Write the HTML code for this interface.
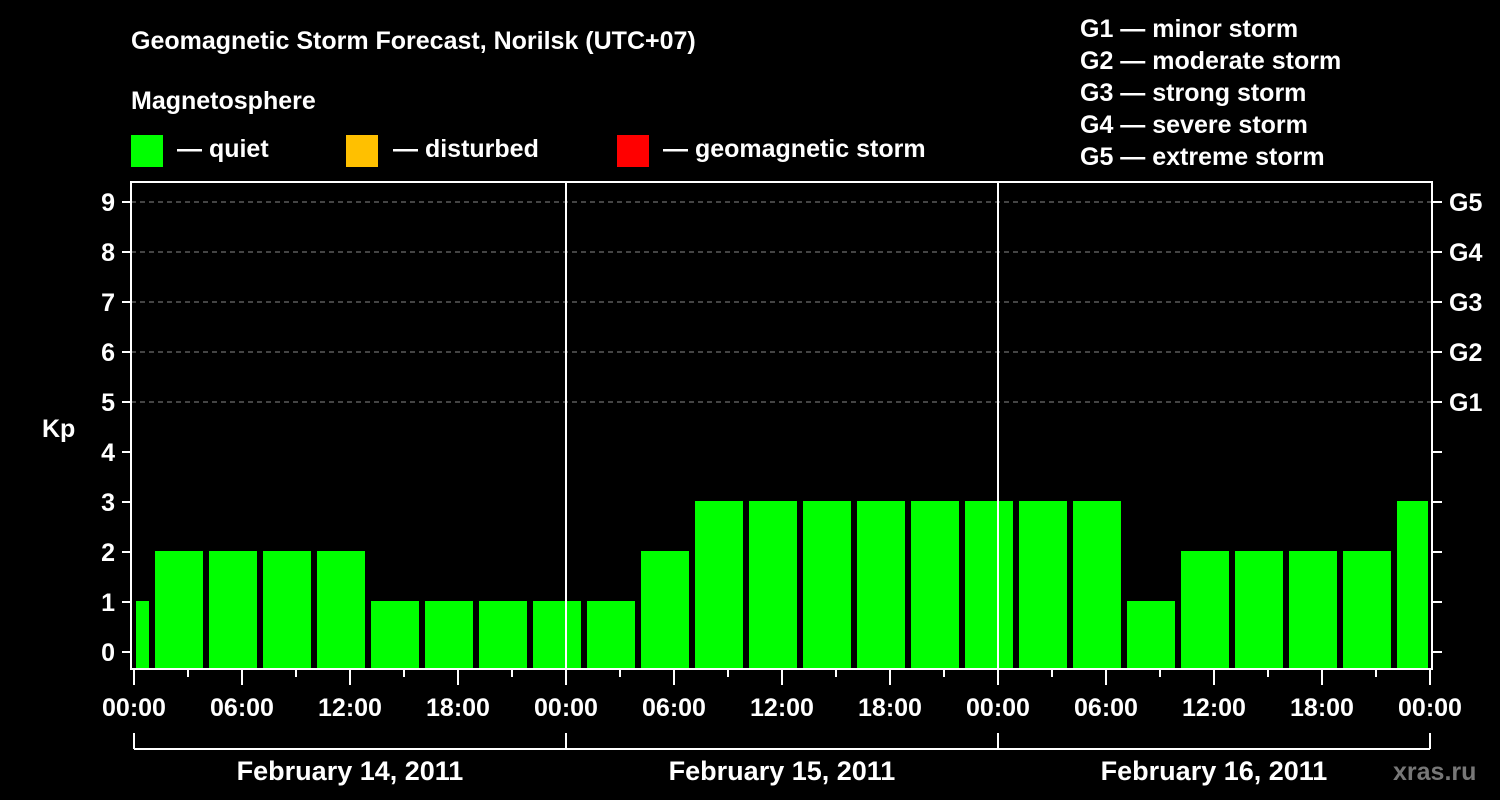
<!DOCTYPE html>
<html><head><meta charset="utf-8"><style>
html,body{margin:0;padding:0;background:#000;width:1500px;height:800px;overflow:hidden}
svg text{font-family:"Liberation Sans",sans-serif;font-weight:bold;fill:#fff}
</style></head><body>
<svg id="chart" width="1500" height="800" viewBox="0 0 1500 800" xmlns="http://www.w3.org/2000/svg">
<rect width="1500" height="800" fill="#000"/>
<text x="131" y="49" font-size="25">Geomagnetic Storm Forecast, Norilsk (UTC+07)</text>
<text x="131" y="109" font-size="25">Magnetosphere</text>
<g>
<rect x="131" y="135" width="32" height="32" fill="#00ff00"/>
<text x="177" y="157" font-size="25">— quiet</text>
<rect x="346" y="135" width="32" height="32" fill="#ffc000"/>
<text x="393" y="157" font-size="25">— disturbed</text>
<rect x="617" y="135" width="32" height="32" fill="#ff0000"/>
<text x="663" y="157" font-size="25">— geomagnetic storm</text>
</g>
<g font-size="25">
<text x="1080" y="37">G1 — minor storm</text>
<text x="1080" y="69">G2 — moderate storm</text>
<text x="1080" y="101">G3 — strong storm</text>
<text x="1080" y="133">G4 — severe storm</text>
<text x="1080" y="165">G5 — extreme storm</text>
</g>
<text x="42" y="437" font-size="25">Kp</text>
<text x="1393" y="780" font-size="25" fill="#777" style="fill:#777">xras.ru</text>
<g id="plot"></g>
</svg>
<script>
const kpValues = [1,2,2,2,2,1,1,1,1,1,2,3,3,3,3,3,3,3,3,1,2,2,2,2,3];
const slotStartHours = -2; // first 3-hour slot start (hours from Feb 14 00:00 local)
const yTicks = [0,1,2,3,4,5,6,7,8,9];
const gLabels = ["G1","G2","G3","G4","G5"];
const gLevels = [5,6,7,8,9];
const xTickLabels = ["00:00","06:00","12:00","18:00","00:00","06:00","12:00","18:00","00:00","06:00","12:00","18:00","00:00"];
const dayLabels = ["February 14, 2011","February 15, 2011","February 16, 2011"];

const NS="http://www.w3.org/2000/svg";
const plot=document.getElementById('plot');
const X0=134, PXH=(1430-134)/72, Y0=652, PXK=50;
const L=131,R=1432,T=182,B=669;
const xs=h=>X0+h*PXH, ys=k=>Y0-k*PXK;
function mk(tag,attrs,name){const e=document.createElementNS(NS,tag);for(const k in attrs)e.setAttribute(k,attrs[k]);


plot.appendChild(e);return e;}
// grid
gLevels.forEach((k,i)=>{mk('line',{x1:L,x2:R,y1:ys(k),y2:ys(k),stroke:'#888','stroke-dasharray':'5,4','stroke-width':1},'grid-line-'+k);});
// bars
const cl=mk('clipPath',{id:'pc'},'plot-clip');
const cr=document.createElementNS(NS,'rect');cr.setAttribute('x',X0+2);cr.setAttribute('y',T);cr.setAttribute('width',1430-X0-4);cr.setAttribute('height',B-T);


cl.appendChild(cr);
const bg=mk('g',{'clip-path':'url(#pc)'},'bars');
kpValues.forEach((v,i)=>{const h0=slotStartHours+i*3;const x1=xs(h0)+3,x2=xs(h0+3)-3;
const r=document.createElementNS(NS,'rect');r.setAttribute('x',x1);r.setAttribute('width',x2-x1);r.setAttribute('y',ys(v)-1);r.setAttribute('height',B-(ys(v)-1));
r.setAttribute('fill',v>=5?'#ff0000':(v>=4?'#ffc000':'#00ff00'));


bg.appendChild(r);});
// day dividers
[1,2].forEach(d=>{mk('line',{x1:xs(d*24),x2:xs(d*24),y1:T,y2:B,stroke:'#fff','stroke-width':2},'day-divider-'+d);});
// frame
mk('rect',{x:L,y:T,width:R-L,height:B-T,fill:'none',stroke:'#fff','stroke-width':2},'plot-frame');
// y ticks
yTicks.forEach(k=>{mk('line',{x1:122,x2:L,y1:ys(k),y2:ys(k),stroke:'#fff','stroke-width':2},'y-tick-'+k);
mk('line',{x1:R,x2:1442,y1:ys(k),y2:ys(k),stroke:'#fff','stroke-width':2},'y-tick-right-'+k);
const t=mk('text',{x:115,y:ys(k)+9,'font-size':25,'text-anchor':'end'},'y-tick-label-'+k);t.textContent=k;});
gLevels.forEach((k,i)=>{const t=mk('text',{x:1449,y:ys(k)+9,'font-size':25},'g-label-'+gLabels[i]);t.textContent=gLabels[i];});
// x ticks
for(let h=0;h<=72;h+=3){const major=h%6===0;mk('line',{x1:xs(h),x2:xs(h),y1:B,y2:major?685:677,stroke:'#fff','stroke-width':2},'x-tick-'+h);}
xTickLabels.forEach((s,i)=>{const t=mk('text',{x:xs(i*6),y:716,'font-size':25,'text-anchor':'middle'},'x-tick-label-'+i);t.textContent=s;});
// day bracket
mk('line',{x1:xs(0),x2:xs(72),y1:749,y2:749,stroke:'#fff','stroke-width':2},'day-bracket');
[0,1,2,3].forEach(d=>mk('line',{x1:xs(d*24),x2:xs(d*24),y1:733,y2:749,stroke:'#fff','stroke-width':2},'day-bracket-tick-'+d));
dayLabels.forEach((s,i)=>{const t=mk('text',{x:xs(i*24+12),y:780,'font-size':27,'text-anchor':'middle'},'day-label-'+i);t.textContent=s;});
</script>
</body></html>
